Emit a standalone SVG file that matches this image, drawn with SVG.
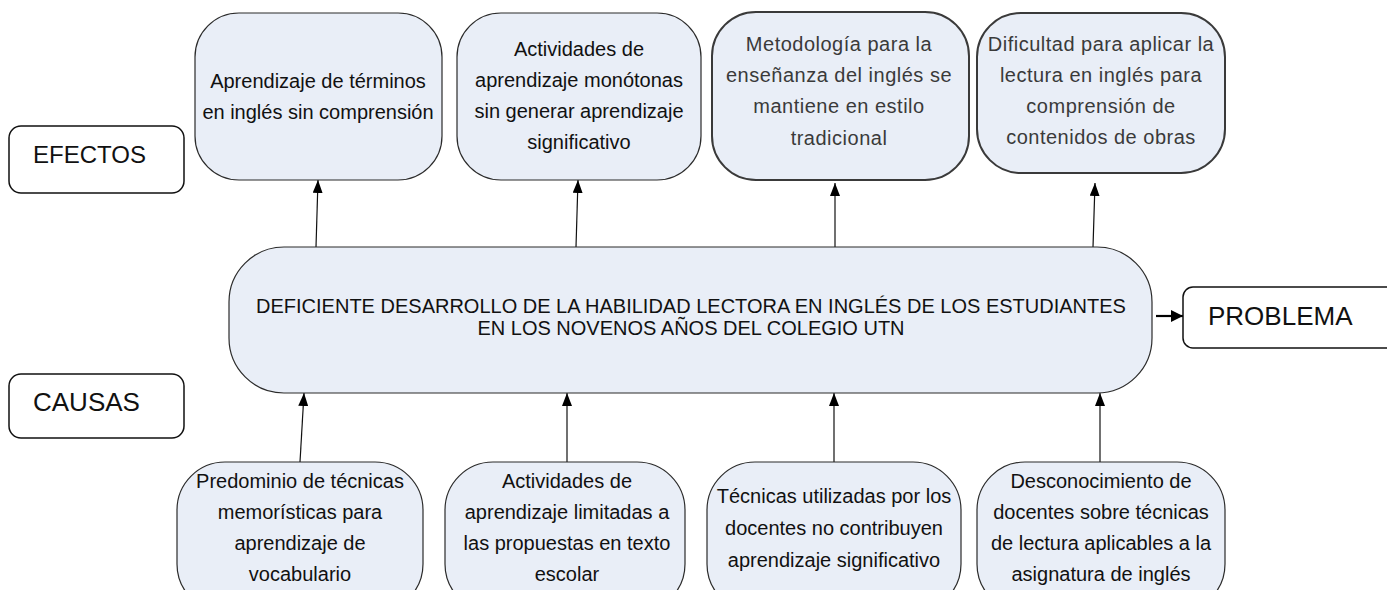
<svg xmlns="http://www.w3.org/2000/svg" width="1387" height="590" viewBox="0 0 1387 590">
<defs>
<style>
.node{fill:#e9eef7;stroke:#2b2b2b;stroke-width:1.2}
.blur{fill:#e9eef7;stroke:#3a3a3a;stroke-width:2}
.label{fill:#ffffff;stroke:#111;stroke-width:1.5}
.t{font-family:"Liberation Sans",Arial,sans-serif;font-size:20px;fill:#111;text-anchor:middle}
.tb{font-family:"Liberation Sans",Arial,sans-serif;font-size:20px;fill:#3a3a3a;text-anchor:middle;letter-spacing:0.5px}
.lab{font-family:"Liberation Sans",Arial,sans-serif;fill:#111}
.c{fill:none;stroke:#111;stroke-width:1.2}
</style>
<marker id="ah" markerUnits="userSpaceOnUse" markerWidth="13" markerHeight="10" refX="13" refY="5" orient="auto" viewBox="0 0 13 10">
<path d="M0,0 L13,5 L0,10 Z" fill="#000"/>
</marker>
<marker id="ahr" markerUnits="userSpaceOnUse" markerWidth="12" markerHeight="12" refX="12" refY="6" orient="auto" viewBox="0 0 12 12">
<path d="M0,0 L12,6 L0,12 Z" fill="#000"/>
</marker>
</defs>
<rect width="1387" height="590" fill="#ffffff"/>

<g id="connectors">
<line class="c" x1="316" y1="247" x2="318" y2="180" marker-end="url(#ah)"/>
<line class="c" x1="576" y1="247" x2="578" y2="180" marker-end="url(#ah)"/>
<line class="c" x1="835" y1="247" x2="835" y2="183" marker-end="url(#ah)"/>
<line class="c" x1="1093" y1="247" x2="1095" y2="183" marker-end="url(#ah)"/>
<line class="c" x1="300" y1="462" x2="304" y2="393" marker-end="url(#ah)"/>
<line class="c" x1="567" y1="462" x2="567" y2="393" marker-end="url(#ah)"/>
<line class="c" x1="834" y1="462" x2="834" y2="393" marker-end="url(#ah)"/>
<line class="c" x1="1100" y1="462" x2="1100" y2="393" marker-end="url(#ah)"/>
<line x1="1156" y1="316" x2="1183" y2="316" stroke="#000" stroke-width="2.2" marker-end="url(#ahr)"/>
</g>

<g id="efectos">
<rect class="label" x="9" y="126" width="175" height="67" rx="12"/>
<text class="lab" x="33" y="163" font-size="24">EFECTOS</text>
</g>
<g id="causas">
<rect class="label" x="9" y="374" width="175" height="64" rx="12"/>
<text class="lab" x="33" y="411" font-size="26">CAUSAS</text>
</g>
<g id="problema">
<rect class="label" x="1183" y="287" width="220" height="61" rx="10"/>
<text class="lab" x="1208" y="325" font-size="26">PROBLEMA</text>
</g>

<g id="efecto1">
<rect class="node" x="195" y="13" width="247" height="167" rx="44"/>
<text class="t" x="318" y="88">Aprendizaje de términos</text>
<text class="t" x="318" y="119">en inglés sin comprensión</text>
</g>
<g id="efecto2">
<rect class="node" x="457" y="13" width="244" height="167" rx="44"/>
<text class="t" x="579" y="56">Actividades de</text>
<text class="t" x="579" y="87">aprendizaje monótonas</text>
<text class="t" x="579" y="118">sin generar aprendizaje</text>
<text class="t" x="579" y="149">significativo</text>
</g>
<g id="efecto3">
<rect class="blur" x="712" y="12" width="257" height="168" rx="44"/>
<text class="tb" x="839" y="51">Metodología para la</text>
<text class="tb" x="839" y="82">enseñanza del inglés se</text>
<text class="tb" x="839" y="113">mantiene en estilo</text>
<text class="tb" x="839" y="145">tradicional</text>
</g>
<g id="efecto4">
<rect class="blur" x="977" y="13" width="248" height="160" rx="44"/>
<text class="tb" x="1101" y="51">Dificultad para aplicar la</text>
<text class="tb" x="1101" y="82">lectura en inglés para</text>
<text class="tb" x="1101" y="113">comprensión de</text>
<text class="tb" x="1101" y="144">contenidos de obras</text>
</g>

<g id="problema-central">
<rect class="node" x="229" y="247" width="923" height="146" rx="55"/>
<text class="t" x="691" y="313">DEFICIENTE DESARROLLO DE LA HABILIDAD LECTORA EN INGLÉS DE LOS ESTUDIANTES</text>
<text class="t" x="691" y="335">EN LOS NOVENOS AÑOS DEL COLEGIO UTN</text>
</g>

<g id="causa1">
<rect class="node" x="177" y="462" width="246" height="150" rx="48"/>
<text class="t" x="300" y="488">Predominio de técnicas</text>
<text class="t" x="300" y="519">memorísticas para</text>
<text class="t" x="300" y="550">aprendizaje de</text>
<text class="t" x="300" y="581">vocabulario</text>
</g>
<g id="causa2">
<rect class="node" x="445" y="462" width="240" height="150" rx="48"/>
<text class="t" x="567" y="488">Actividades de</text>
<text class="t" x="567" y="519">aprendizaje limitadas a</text>
<text class="t" x="567" y="550">las propuestas en texto</text>
<text class="t" x="567" y="581">escolar</text>
</g>
<g id="causa3">
<rect class="node" x="707" y="462" width="254" height="150" rx="48"/>
<text class="t" x="834" y="503">Técnicas utilizadas por los</text>
<text class="t" x="834" y="535">docentes no contribuyen</text>
<text class="t" x="834" y="567">aprendizaje significativo</text>
</g>
<g id="causa4">
<rect class="node" x="977" y="462" width="248" height="150" rx="48"/>
<text class="t" x="1101" y="488">Desconocimiento de</text>
<text class="t" x="1101" y="519">docentes sobre técnicas</text>
<text class="t" x="1101" y="550">de lectura aplicables a la</text>
<text class="t" x="1101" y="581">asignatura de inglés</text>
</g>
</svg>
